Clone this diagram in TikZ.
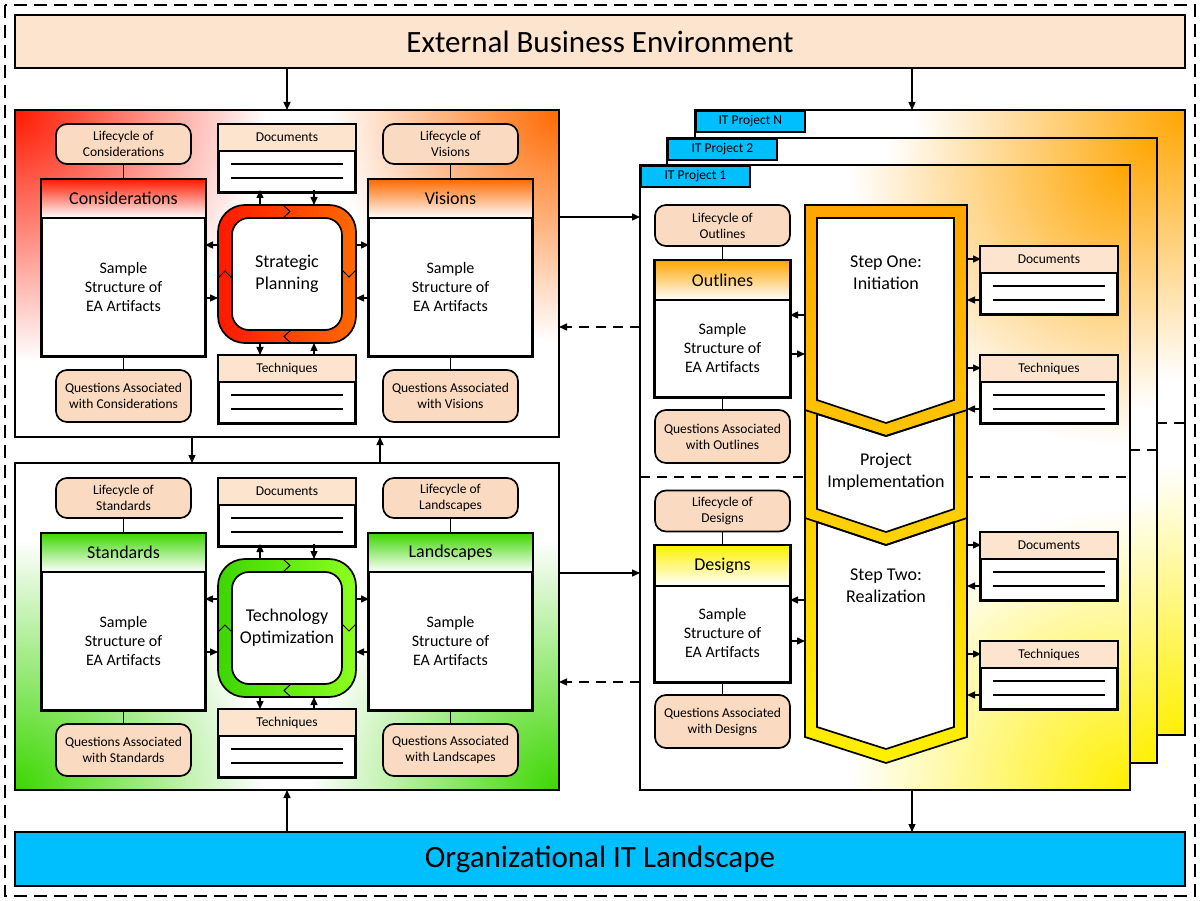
\documentclass[tikz,border=0pt]{standalone}
\usepackage{fontspec}
\setmainfont{Carlito}
\usetikzlibrary{arrows.meta,fadings,shapes.geometric}
\definecolor{peach}{RGB}{252,228,206}
\definecolor{rpeach}{RGB}{250,218,192}
\definecolor{cyanb}{RGB}{0,191,255}
\definecolor{redA}{RGB}{255,25,0}
\definecolor{redB}{RGB}{255,105,0}
\definecolor{grA}{RGB}{60,215,0}
\definecolor{grB}{RGB}{140,255,30}
\definecolor{orA}{RGB}{255,165,0}
\definecolor{yeA}{RGB}{255,240,0}
\tikzfading[name=radfade, inner color=transparent!0, outer color=transparent!100]
\tikzset{
  bl/.style={line width=1.7pt},
  arr/.style={-{Triangle[length=8pt,width=7pt]}, line width=1.4pt},
  darr/.style={arr, dash pattern=on 10pt off 7pt},
  rbx/.style={draw, bl, fill=rpeach, rounded corners=11pt, minimum width=135pt, align=center, font=\fontsize{13.5}{16}\selectfont, inner sep=0pt},
  txt/.style={align=center, font=\fontsize{16}{19}\selectfont},
  hdr/.style={font=\fontsize{18}{21}\selectfont},
  sml/.style={font=\fontsize{13.5}{15}\selectfont},
}
\newcommand\mkart[7]{% name, cx, topy, color, title
  \node[draw,bl,fill=white,minimum width=163pt,minimum height=176pt,inner sep=0pt,anchor=north] (#1) at (#2,#3) {};
  \shade[top color=#4,bottom color=white] (#1.north west) rectangle ([yshift=-#6pt]#1.north east);
  \draw[bl] (#1.north west) rectangle ([yshift=-#6pt]#1.north east);
  \draw[bl] (#1.north west) rectangle (#1.south east);
  \node[hdr] at ([yshift=-0.5*#6pt]#1.north) {#5};
  \node[txt] at ([yshift=-0.5*#6pt]#1.center) {#7};
}
\newcommand\mkdoc[4]{% name, cx, topy, title
  \node[draw,bl,fill=white,minimum width=136pt,minimum height=67pt,inner sep=0pt,anchor=north] (#1) at (#2,#3) {};
  \fill[peach] (#1.north west) rectangle ([yshift=-27pt]#1.north east);
  \draw[bl] (#1.north west) rectangle ([yshift=-27pt]#1.north east);
  \draw[bl] (#1.north west) rectangle (#1.south east);
  \node[sml] at ([yshift=-13.5pt]#1.north) {#4};
  \draw[line width=1.3pt] ([xshift=13pt,yshift=-40pt]#1.north west) -- ([xshift=-13pt,yshift=-40pt]#1.north east);
  \draw[line width=1.3pt] ([xshift=13pt,yshift=-54pt]#1.north west) -- ([xshift=-13pt,yshift=-54pt]#1.north east);
}
\newcommand\mkring[5]{% name, cx, cy, colA, colB
  \shade[left color=#4,right color=#5,even odd rule] [rounded corners=27pt] (#2-69,#3-69) rectangle (#2+69,#3+69) [rounded corners=17pt] (#2-55,#3-56) rectangle (#2+55,#3+56);
  \draw[bl,rounded corners=27pt] (#2-69,#3-69) rectangle (#2+69,#3+69);
  \draw[bl,rounded corners=17pt,fill=white] (#2-55,#3-56) rectangle (#2+55,#3+56);
  \node[minimum width=138pt,minimum height=138pt,inner sep=0pt] (#1) at (#2,#3) {};
  \draw[line width=1pt] (#2-4,#3-69) -- (#2+3,#3-62.5) -- (#2-4,#3-56);
  \draw[line width=1pt] (#2+4,#3+69) -- (#2-3,#3+62.5) -- (#2+4,#3+56);
  \draw[line width=1pt] (#2+69,#3-4) -- (#2+62,#3+3) -- (#2+55,#3-4);
  \draw[line width=1pt] (#2-69,#3+4) -- (#2-62,#3-3) -- (#2-55,#3+4);
}
\begin{document}
\begin{tikzpicture}[x=1pt,y=-1pt]
\useasboundingbox (0,0) rectangle (1200,901);
\fill[white] (0,0) rectangle (1200,901);
\draw[line width=1.3pt,dash pattern=on 13pt off 7pt] (5,5) rectangle (1195,896);

% top / bottom bars
\node[draw,bl,fill=peach,minimum width=1170pt,minimum height=53pt,font=\fontsize{31}{34}\selectfont] (ext) at (600,41.5) {External Business Environment};
\node[draw,bl,fill=cyanb,minimum width=1170pt,minimum height=54pt,font=\fontsize{31}{34}\selectfont] (org) at (600,859) {Organizational IT Landscape};

% ---------- left panels ----------
\node[minimum width=544pt,minimum height=327pt,inner sep=0pt] (p1) at (287,273.5) {};
\begin{scope}
\clip (15,110) rectangle (559,437);
\fill[white] (15,110) rectangle (559,437);
\fill[redA,path fading=radfade] (15,110) circle (250);
\fill[redB,path fading=radfade] (559,110) circle (230);
\end{scope}
\draw[bl] (15,110) rectangle (559,437);

\node[minimum width=544pt,minimum height=327pt,inner sep=0pt] (p2) at (287,626.5) {};
\begin{scope}
\clip (15,463) rectangle (559,790);
\fill[white] (15,463) rectangle (559,790);
\fill[grA,path fading=radfade] (15,790) circle (250);
\fill[grA,path fading=radfade] (559,790) circle (250);
\end{scope}
\draw[bl] (15,463) rectangle (559,790);

% panel 1 content
\node[rbx,minimum height=40pt] (lcc) at (123.5,144) {Lifecycle of\\Considerations};
\node[rbx,minimum height=52pt] (qc) at (123.5,396) {Questions Associated\\with Considerations};
\mkart{cons}{123.5}{179}{redA}{Considerations}{39}{Sample\\Structure of\\EA Artifacts}
\node[rbx,minimum height=40pt] (lcv) at (450.5,144) {Lifecycle of\\Visions};
\node[rbx,minimum height=52pt] (qv) at (450.5,396) {Questions Associated\\with Visions};
\mkart{vis}{450.5}{179}{redB}{Visions}{39}{Sample\\Structure of\\EA Artifacts}
\draw[bl] (lcc) -- (cons); \draw[bl] (cons) -- (qc);
\draw[bl] (lcv) -- (vis); \draw[bl] (vis) -- (qv);
\mkdoc{doc1}{287}{124}{Documents}
\mkdoc{tec1}{287}{355}{Techniques}
\mkring{sp}{287}{274}{redA}{redB}
\node[txt,font=\fontsize{18}{22}\selectfont] at (287,274) {Strategic\\Planning};
\draw[arr] (260,205) -- (260,190); \draw[arr] (314,190) -- (314,205);
\draw[arr] (260,343) -- (260,355); \draw[arr] (314,355) -- (314,343);
\draw[arr] (218,245) -- (205,245); \draw[arr] (205,298) -- (218,298);
\draw[arr] (356,245) -- (369,245); \draw[arr] (369,298) -- (356,298);

% panel 2 content
\node[rbx,minimum height=40pt] (lcs) at (123.5,498) {Lifecycle of\\Standards};
\node[rbx,minimum height=52pt] (qs) at (123.5,750) {Questions Associated\\with Standards};
\mkart{std}{123.5}{533}{grA}{Standards}{39}{Sample\\Structure of\\EA Artifacts}
\node[rbx,minimum height=40pt] (lcl) at (450.5,498) {Lifecycle of\\Landscapes};
\node[rbx,minimum height=52pt] (ql) at (450.5,750) {Questions Associated\\with Landscapes};
\mkart{lan}{450.5}{533}{grA}{Landscapes}{39}{Sample\\Structure of\\EA Artifacts}
\draw[bl] (lcs) -- (std); \draw[bl] (std) -- (qs);
\draw[bl] (lcl) -- (lan); \draw[bl] (lan) -- (ql);
\mkdoc{doc2}{287}{478}{Documents}
\mkdoc{tec2}{287}{709}{Techniques}
\mkring{to}{287}{628}{grA}{grB}
\node[txt,font=\fontsize{18}{22}\selectfont] at (287,628) {Technology\\Optimization};
\draw[arr] (260,559) -- (260,544); \draw[arr] (314,544) -- (314,559);
\draw[arr] (260,697) -- (260,709); \draw[arr] (314,709) -- (314,697);
\draw[arr] (218,599) -- (205,599); \draw[arr] (205,652) -- (218,652);
\draw[arr] (356,599) -- (369,599); \draw[arr] (369,652) -- (356,652);

% ---------- project frames ----------
\foreach \dx/\lab in {55/N,27/2} {
  \begin{scope}
  \clip (640+\dx,165-\dx) rectangle (1130+\dx,790-\dx);
  \fill[white] (640+\dx,165-\dx) rectangle (1130+\dx,790-\dx);
  \fill[orA,path fading=radfade] (1130+\dx,165-\dx) circle (270);
  \fill[yeA,path fading=radfade] (1130+\dx,790-\dx) circle (270);
  \end{scope}
  \draw[bl] (640+\dx,165-\dx) rectangle (1130+\dx,790-\dx);
  \node[draw,bl,fill=cyanb,minimum width=109pt,minimum height=21pt,inner sep=0pt,anchor=north west,sml] at (640+\dx,165-\dx) {IT Project \lab};
}
\draw[line width=1.3pt,dash pattern=on 10pt off 7pt] (1157,423) -- (1185,423);
\draw[line width=1.3pt,dash pattern=on 10pt off 7pt] (1130,450) -- (1157,450);
\node[minimum width=490pt,minimum height=625pt,inner sep=0pt] (pr1) at (885,477.5) {};
\begin{scope}
\clip (640,165) rectangle (1130,790);
\fill[white] (640,165) rectangle (1130,790);
\fill[orA,path fading=radfade] (1130,165) circle (280);
\fill[yeA,path fading=radfade] (1130,790) circle (280);
\end{scope}
\draw[bl] (640,165) rectangle (1130,790);
\node[draw,bl,fill=cyanb,minimum width=109pt,minimum height=21pt,inner sep=0pt,anchor=north west,sml] at (640,165) {IT Project 1};
\draw[line width=1.3pt,dash pattern=on 10pt off 7pt] (640,477) -- (1130,477);

% left column in project
\node[rbx,minimum height=41pt] (lco) at (722.5,225.5) {Lifecycle of\\Outlines};
\node[rbx,minimum height=53pt] (qo) at (722.5,436.5) {Questions Associated\\with Outlines};
\node[rbx,minimum height=41pt] (lcd) at (722.5,511) {Lifecycle of\\Designs};
\node[rbx,minimum height=53pt] (qd) at (722.5,721.5) {Questions Associated\\with Designs};
\node[draw,bl,fill=white,minimum width=135pt,minimum height=136pt,inner sep=0pt,anchor=north] (out) at (722.5,260) {};
\shade[top color=orA,bottom color=white] (655,260) rectangle (790,300);
\draw[bl] (655,260) rectangle (790,300);
\node[hdr] at (722.5,280) {Outlines};
\node[txt] at (722.5,348) {Sample\\Structure of\\EA Artifacts};
\node[draw,bl,fill=white,minimum width=135pt,minimum height=136pt,inner sep=0pt,anchor=north] (des) at (722.5,545) {};
\shade[top color=yeA,bottom color=white] (655,545) rectangle (790,586);
\draw[bl] (655,545) rectangle (790,586);
\node[hdr] at (722.5,566) {Designs};
\node[txt] at (722.5,633) {Sample\\Structure of\\EA Artifacts};
\draw[bl] (out.north west) rectangle (out.south east);
\draw[bl] (des.north west) rectangle (des.south east);
\draw[bl] (lco) -- (out); \draw[bl] (out) -- (qo);
\draw[bl] (lcd) -- (des); \draw[bl] (des) -- (qd);

% chevron
\shade[top color=orA,bottom color=yeA] (805,205) -- (967,205) -- (967,737) -- (886,763) -- (805,737) -- cycle;
\draw[bl,fill=white] (817,218) -- (954,218) -- (954,400) -- (886,423) -- (817,400) -- cycle;
\draw[bl,fill=white] (817,414) -- (886,436) -- (954,414) -- (954,509) -- (886,532) -- (817,509) -- cycle;
\draw[bl,fill=white] (817,522) -- (886,545) -- (954,522) -- (954,727) -- (886,749) -- (817,727) -- cycle;
\draw[bl] (805,205) -- (967,205) -- (967,737) -- (886,763) -- (805,737) -- cycle;
\draw[bl] (805,410) -- (886,436) -- (967,410);
\draw[bl] (805,518) -- (886,545) -- (967,518);
\node[txt,font=\fontsize{18}{22}\selectfont] (s1) at (886,273) {Step One:\\Initiation};
\node[txt,font=\fontsize{18}{22}\selectfont] (pi) at (886,472) {Project\\Implementation};
\node[txt,font=\fontsize{18}{22}\selectfont] (s2) at (886,586) {Step Two:\\Realization};

\draw[arr] (805,315) -- (790,315); \draw[arr] (790,354) -- (805,354);
\draw[arr] (805,600) -- (790,600); \draw[arr] (790,641) -- (805,641);

\mkdoc{pd1}{1049}{246}{Documents}
\mkdoc{pt1}{1049}{355}{Techniques}
\mkdoc{pd2}{1049}{532}{Documents}
\mkdoc{pt2}{1049}{641}{Techniques}
\foreach \y in {246,355,532,641} {
  \draw[arr] (967,\y+13) -- (981,\y+13);
  \draw[arr] (981,\y+54) -- (967,\y+54);
}

% connections between blocks
\draw[arr] (287,68) -- (287,110);
\draw[arr] (912,68) -- (912,110);
\draw[arr] (192,437) -- (192,463);
\draw[arr] (380,463) -- (380,437);
\draw[arr] (287,832) -- (287,790);
\draw[arr] (912,790) -- (912,832);
\draw[arr] (559,217) -- (640,217);
\draw[darr] (640,327) -- (559,327);
\draw[arr] (559,573) -- (640,573);
\draw[darr] (640,682) -- (559,682);
\end{tikzpicture}
\end{document}
